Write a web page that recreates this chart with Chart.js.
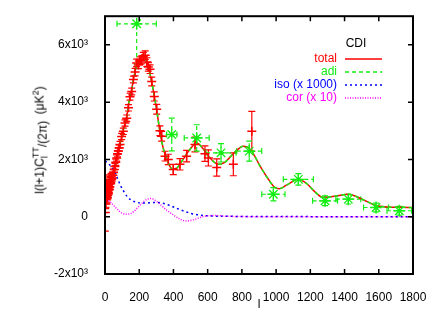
<!DOCTYPE html>
<html>
<head>
<meta charset="utf-8">
<script src="https://cdn.jsdelivr.net/npm/chart.js@4"></script>
<style>
body { margin: 0; background: #fff; }
#wrap { position: relative; width: 436px; height: 312px; }
#ytitle {
  position: absolute; left: 40px; top: 140px;
  transform: translate(-50%, -50%) rotate(-90deg);
  font: 12px "Liberation Sans", Arial, sans-serif; white-space: nowrap; color: #000;
}
.stack { display: inline-block; vertical-align: middle; font-size: 9px; line-height: 9px; }
.low { position: relative; top: 3px; }
sup { font-size: 9px; }
</style>
</head>
<body>
<div id="wrap">
  <canvas id="c" width="436" height="312"></canvas>
  <div id="ytitle">l(l+1)C<span class="stack">TT<br>l</span><span class="low">/(2π)</span>&nbsp;&nbsp;(μK<sup>2</sup>)</div>
</div>
<script>
// tick labels
const xTicks = [0, 200, 400, 600, 800, 1000, 1200, 1400, 1600, 1800];
const yTicks = [-2000, 0, 2000, 4000, 6000];

// model curves (already scaled: iso x 1000, cor x 10)
const totalL = [2, 10, 20, 30, 40, 50, 60, 70, 80, 90, 100, 110, 127, 140, 156, 170, 185, 200, 220, 240, 253, 273, 300, 321, 340, 360, 380, 396, 410, 420, 456, 490, 536, 570, 600, 630, 662, 700, 750, 808, 850, 906, 950, 994, 1020, 1060, 1130, 1180, 1230, 1276, 1350, 1422, 1500, 1588, 1650, 1720, 1800];
const totalV = [1000, 850, 880, 1050, 1250, 1550, 1800, 2100, 2350, 2600, 2850, 3100, 3500, 4000, 4450, 4900, 5300, 5520, 5650, 5450, 5230, 4700, 3800, 2980, 2400, 2050, 1750, 1660, 1680, 1700, 2000, 2300, 2575, 2400, 2150, 1950, 1830, 1900, 2200, 2460, 2350, 1770, 1350, 1015, 980, 1100, 1307, 1150, 850, 670, 720, 787, 620, 380, 340, 330, 322];
const adiL = [2, 10, 20, 30, 40, 50, 60, 70, 80, 90, 100, 110, 127, 140, 156, 170, 185, 200, 220, 240, 253, 273, 300, 321, 340, 360, 380, 396, 410, 420, 456, 490, 536, 570, 600, 630, 662, 700, 750, 808, 850, 906, 950, 994, 1020, 1060, 1130, 1180, 1230, 1276, 1350, 1422, 1500, 1588, 1650, 1720, 1800];
const adiV = [930, 790, 820, 1000, 1210, 1520, 1780, 2080, 2340, 2590, 2840, 3090, 3490, 3990, 4440, 4890, 5290, 5510, 5640, 5440, 5220, 4690, 3790, 2975, 2395, 2047, 1748, 1660, 1680, 1700, 2000, 2300, 2575, 2400, 2150, 1950, 1830, 1900, 2200, 2460, 2350, 1770, 1350, 1015, 980, 1100, 1307, 1150, 850, 670, 720, 787, 620, 380, 340, 330, 322];
const isoL = [2, 20, 50, 70, 90, 110, 130, 150, 180, 210, 240, 270, 300, 330, 360, 400, 450, 500, 550, 600, 700, 800, 1000, 1200, 1400, 1600, 1800];
const isoV = [1950, 1850, 1650, 1380, 1100, 880, 700, 590, 510, 480, 475, 490, 500, 480, 430, 340, 220, 120, 60, 30, 15, 10, 5, 3, 2, 1, 0];
const corL = [2, 10, 20, 30, 45, 60, 80, 100, 125, 150, 170, 190, 210, 230, 250, 263, 280, 300, 330, 360, 400, 440, 477, 520, 560, 600, 650, 700, 800, 900, 1000, 1200, 1400, 1600, 1800];
const corV = [700, 620, 560, 520, 430, 330, 210, 120, 90, 110, 190, 310, 430, 550, 620, 640, 620, 540, 390, 230, 60, -90, -150, -100, -20, 30, 40, 20, 5, 0, 0, 0, 0, 0, 0];

// measured points: red (vertical errors), green (l and value errors)
const redL = [2, 3, 4, 5, 6, 7, 8, 9, 10, 11, 12, 13, 14, 15, 16, 17, 18, 19, 20, 22, 24, 26, 28, 30, 33, 36, 39, 42, 46, 50, 54, 58, 63, 68, 73, 78, 83, 88, 97, 107, 117, 127, 137, 146, 156, 166, 176, 185, 195, 205, 215, 224, 235, 245, 253, 263, 273, 288, 302, 321, 331, 351, 370, 399, 438, 477, 526, 584, 604, 653, 750, 858];
const redV = [150, 800, 700, 1100, 650, 900, 700, 750, 850, 1000, 650, 800, 900, 1050, 750, 950, 850, 1100, 800, 1000, 1150, 950, 1050, 1250, 1150, 1400, 1300, 1350, 1450, 1550, 1650, 1750, 1900, 2050, 2200, 2290, 2400, 2520, 2800, 2980, 3270, 3440, 3800, 4190, 4370, 4790, 5050, 5370, 5300, 5450, 5480, 5600, 5640, 5400, 5230, 5150, 4720, 4200, 3750, 3000, 2810, 2115, 2000, 1650, 1830, 2115, 2520, 2200, 2050, 1720, 1830, 2980];
const redErr = [650, 500, 420, 360, 320, 290, 260, 240, 220, 210, 200, 190, 180, 170, 165, 160, 155, 150, 145, 140, 135, 130, 125, 120, 115, 110, 110, 110, 110, 110, 110, 110, 110, 110, 110, 110, 110, 110, 110, 110, 110, 110, 110, 120, 120, 120, 130, 130, 130, 130, 140, 140, 150, 150, 150, 150, 150, 160, 170, 170, 170, 170, 180, 180, 200, 200, 260, 270, 280, 300, 400, 700];
const greenL = [185, 390, 536, 678, 843, 984, 1130, 1286, 1422, 1584, 1720];
const greenV = [6735, 2870, 2750, 2230, 2290, 785, 1305, 555, 613, 322, 208];
const greenDl = [115, 30, 73, 88, 73, 68, 88, 73, 73, 73, 72];
const greenDv = [1400, 575, 460, 320, 350, 230, 200, 170, 170, 150, 150];

const FONT = '"Liberation Sans", Arial, sans-serif';
const pts = (ls, vs) => ls.map((l, i) => ({ x: l, y: vs[i] }));

const errorBars = {
  id: 'errorBars',
  beforeDatasetsDraw(chart) {
    const { ctx, chartArea: a, scales: { x, y } } = chart;
    ctx.save();
    ctx.beginPath();
    ctx.rect(a.left, a.top, a.right - a.left, a.bottom - a.top);
    ctx.clip();
    ctx.strokeStyle = '#ff0000';
    ctx.lineWidth = 1.2;
    redL.forEach((l, i) => {
      const px = x.getPixelForValue(l);
      const y1 = y.getPixelForValue(redV[i] - redErr[i]);
      const y2 = y.getPixelForValue(redV[i] + redErr[i]);
      ctx.beginPath();
      ctx.moveTo(px, y1); ctx.lineTo(px, y2);
      ctx.moveTo(px - 3.5, y1); ctx.lineTo(px + 3.5, y1);
      ctx.moveTo(px - 3.5, y2); ctx.lineTo(px + 3.5, y2);
      ctx.stroke();
    });
    ctx.strokeStyle = '#11ee11';
    ctx.setLineDash([4, 3]);
    greenL.forEach((l, i) => {
      const px = x.getPixelForValue(l), py = y.getPixelForValue(greenV[i]);
      const x1 = x.getPixelForValue(l - greenDl[i]), x2 = x.getPixelForValue(l + greenDl[i]);
      const y1 = y.getPixelForValue(greenV[i] - greenDv[i]), y2 = y.getPixelForValue(greenV[i] + greenDv[i]);
      ctx.beginPath();
      ctx.moveTo(x1, py); ctx.lineTo(x2, py);
      ctx.moveTo(px, y1); ctx.lineTo(px, y2);
      ctx.stroke();
      ctx.beginPath();
      ctx.setLineDash([]);
      ctx.moveTo(x1, py - 3); ctx.lineTo(x1, py + 3);
      ctx.moveTo(x2, py - 3); ctx.lineTo(x2, py + 3);
      ctx.moveTo(px - 3, y1); ctx.lineTo(px + 3, y1);
      ctx.moveTo(px - 3, y2); ctx.lineTo(px + 3, y2);
      ctx.stroke();
      ctx.setLineDash([4, 3]);
    });
    ctx.restore();
  }
};

const frame = {
  id: 'frame',
  afterDraw(chart) {
    const { ctx, chartArea: a, scales: { x, y } } = chart;
    ctx.save();
    ctx.strokeStyle = '#000';
    ctx.lineWidth = 1.5;
    ctx.beginPath();
    xTicks.forEach(v => {
      const px = x.getPixelForValue(v);
      ctx.moveTo(px, a.bottom); ctx.lineTo(px, a.bottom - 5);
      ctx.moveTo(px, a.top); ctx.lineTo(px, a.top + 5);
    });
    yTicks.forEach(v => {
      const py = y.getPixelForValue(v);
      ctx.moveTo(a.left, py); ctx.lineTo(a.left + 5, py);
      ctx.moveTo(a.right, py); ctx.lineTo(a.right - 5, py);
    });
    ctx.stroke();
    ctx.lineWidth = 2;
    ctx.strokeRect(a.left, a.top, a.right - a.left, a.bottom - a.top);

    // legend
    ctx.font = '12px ' + FONT;
    ctx.textBaseline = 'middle';
    ctx.textAlign = 'center';
    ctx.fillStyle = '#000';
    ctx.fillText('CDI', 356, 44);
    const rows = [
      ['total', '#ff0000', []],
      ['adi', '#11ee11', [4, 3]],
      ['iso (x 1000)', '#0000ff', [2, 3]],
      ['cor (x 10)', '#ff00ff', [1, 1.5]]
    ];
    ctx.textAlign = 'right';
    rows.forEach(([t, c, d], i) => {
      const ry = 59 + i * 13;
      ctx.fillStyle = c;
      ctx.fillText(t, 337, ry);
      ctx.strokeStyle = c;
      ctx.lineWidth = 1.5;
      ctx.setLineDash(d);
      ctx.beginPath();
      ctx.moveTo(345, ry); ctx.lineTo(382, ry);
      ctx.stroke();
    });
    ctx.restore();
  }
};

const curve = (data, color, dash, order) => ({
  type: 'line', data, borderColor: color, borderWidth: 1.5, borderDash: dash,
  pointRadius: 0, cubicInterpolationMode: 'monotone', fill: false, order
});

new Chart(document.getElementById('c'), {
  type: 'line',
  data: {
    datasets: [
      curve(pts(totalL, totalV), '#ff0000', [], 6),
      curve(pts(adiL, adiV), '#11ee11', [4, 3], 5),
      curve(pts(isoL, isoV), '#0000ff', [2, 3], 4),
      curve(pts(corL, corV), '#ff00ff', [1, 1.5], 3),
      {
        data: pts(redL, redV), showLine: false, pointStyle: 'cross', pointRadius: 4.5,
        borderColor: '#ff0000', backgroundColor: '#ff0000', borderWidth: 1.5, order: 2
      },
      {
        data: pts(greenL, greenV), showLine: false, pointStyle: 'star', pointRadius: 6,
        borderColor: '#11ee11', backgroundColor: '#11ee11', borderWidth: 1.3, order: 1
      }
    ]
  },
  options: {
    responsive: false,
    animation: false,
    layout: { padding: { top: 12.8, right: 23, left: 0, bottom: 0 } },
    plugins: { legend: { display: false }, tooltip: { enabled: false } },
    scales: {
      x: {
        type: 'linear', min: 0, max: 1800,
        afterBuildTicks: s => { s.ticks = xTicks.map(v => ({ value: v })); },
        afterFit: s => { s.height = 38; },
        grid: { display: false }, border: { display: false },
        ticks: { color: '#000', padding: 8, maxRotation: 0, font: { family: FONT, size: 12 }, callback: v => String(v) },
        title: { display: true, text: 'l', color: '#000', padding: 0, font: { family: FONT, size: 12 } }
      },
      y: {
        type: 'linear', min: -2000, max: 7000,
        afterBuildTicks: s => { s.ticks = yTicks.map(v => ({ value: v })); },
        afterFit: s => { s.width = 105; },
        grid: { display: false }, border: { display: false },
        ticks: {
          color: '#000', padding: 9, font: { family: FONT, size: 12 },
          callback: v => v === 0 ? '0' : (v / 1000) + 'x10³'
        }
      }
    }
  },
  plugins: [errorBars, frame]
});
</script>
</body>
</html>
